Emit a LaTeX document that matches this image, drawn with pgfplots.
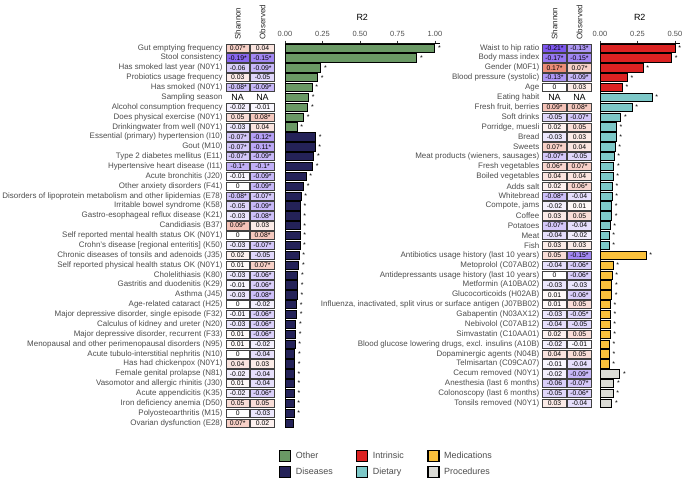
\documentclass[border=0pt]{standalone}
\usepackage{pgfplots}
\pgfplotsset{compat=1.18}
\usepackage{pgfplotstable}
\usepackage{fontspec}
\setmainfont{Liberation Sans}
\setsansfont{Liberation Sans}

\definecolor{cOther}{RGB}{106,153,101}
\definecolor{cDis}{RGB}{36,34,88}
\definecolor{cIntr}{RGB}{220,34,34}
\definecolor{cDiet}{RGB}{125,200,200}
\definecolor{cMed}{RGB}{250,193,60}
\definecolor{cProc}{RGB}{219,219,213}
\definecolor{lab}{RGB}{77,77,77}

\pgfdeclareplotmark{cell}{%
  \pgfpathrectangle{\pgfpoint{-11.8bp}{-4.15bp}}{\pgfpoint{23.6bp}{8.3bp}}%
  \pgfusepathqfillstroke}

\pgfplotstableread{
y sh shl ob obl r2
0 0.07 0.07* 0.04 0.04 0.998
1 -0.19 -0.19* -0.15 -0.15* 0.878
2 -0.06 -0.06 -0.09 -0.09* 0.238
3 0.03 0.03 -0.05 -0.05 0.216
4 -0.08 -0.08* -0.09 -0.09* 0.180
5 0 NA 0 NA 0.156
6 -0.02 -0.02 -0.01 -0.01 0.151
7 0.05 0.05 0.08 0.08* 0.124
8 -0.03 -0.03 0.04 0.04 0.080
9 -0.07 -0.07* -0.12 -0.12* 0.204
10 -0.07 -0.07* -0.11 -0.11* 0.200
11 -0.07 -0.07* -0.09 -0.09* 0.191
12 -0.10 -0.1* -0.10 -0.1* 0.184
13 -0.01 -0.01 -0.09 -0.09* 0.140
14 0 0 -0.09 -0.09* 0.124
15 -0.08 -0.08* -0.07 -0.07* 0.106
16 -0.05 -0.05 -0.09 -0.09* 0.101
17 -0.03 -0.03 -0.08 -0.08* 0.100
18 0.09 0.09* 0.03 0.03 0.100
19 0 0 0.08 0.08* 0.100
20 -0.03 -0.03 -0.07 -0.07* 0.099
21 0.02 0.02 -0.05 -0.05 0.093
22 0.01 0.01 0.07 0.07* 0.091
23 -0.03 -0.03 -0.06 -0.06* 0.085
24 -0.01 -0.01 -0.06 -0.06* 0.083
25 -0.03 -0.03 -0.08 -0.08* 0.082
26 0 0 -0.02 -0.02 0.077
27 -0.01 -0.01 -0.06 -0.06* 0.076
28 -0.03 -0.03 -0.06 -0.06* 0.072
29 0.01 0.01 -0.06 -0.06* 0.070
30 0.01 0.01 -0.02 -0.02 0.067
31 0 0 -0.04 -0.04 0.065
32 0.04 0.04 0.03 0.03 0.063
33 -0.02 -0.02 -0.04 -0.04 0.062
34 0.01 0.01 -0.04 -0.04 0.062
35 -0.02 -0.02 -0.06 -0.06* 0.061
36 0.05 0.05 0.05 0.05 0.060
37 0 0 -0.03 -0.03 0.060
38 0.07 0.07* 0.02 0.02 0.058
}\lefttab

\pgfplotstableread{
y sh shl ob obl r2
0 -0.21 -0.21* -0.13 -0.13* 0.500
1 -0.17 -0.17* -0.15 -0.15* 0.476
2 0.17 0.17* 0.07 0.07* 0.287
3 -0.13 -0.13* -0.09 -0.09* 0.182
4 0 0 0.03 0.03 0.149
5 0 NA 0 NA 0.347
6 0.09 0.09* 0.08 0.08* 0.213
7 -0.05 -0.05 -0.07 -0.07* 0.138
8 0.02 0.02 0.05 0.05 0.109
9 -0.03 -0.03 0.03 0.03 0.107
10 0.07 0.07* 0.04 0.04 0.100
11 -0.07 -0.07* -0.05 -0.05 0.093
12 0.06 0.06* 0.07 0.07* 0.091
13 0.04 0.04 0.04 0.04 0.087
14 0.02 0.02 0.06 0.06* 0.082
15 -0.08 -0.08* -0.04 -0.04 0.080
16 -0.02 -0.02 0.01 0.01 0.076
17 0.03 0.03 0.05 0.05 0.076
18 -0.07 -0.07* -0.04 -0.04 0.067
19 -0.04 -0.04 -0.02 -0.02 0.060
20 0.03 0.03 0.03 0.03 0.060
21 0.05 0.05 -0.15 -0.15* 0.307
22 -0.04 -0.04 -0.06 -0.06* 0.087
23 0 0 -0.06 -0.06* 0.080
24 -0.03 -0.03 -0.03 -0.03 0.078
25 0.01 0.01 -0.06 -0.06* 0.076
26 0.01 0.01 0.05 0.05 0.069
27 -0.03 -0.03 -0.05 -0.05* 0.069
28 -0.04 -0.04 -0.05 -0.05 0.067
29 0.02 0.02 0.05 0.05 0.067
30 -0.02 -0.02 -0.01 -0.01 0.062
31 0.04 0.04 0.05 0.05 0.062
32 -0.01 -0.01 -0.04 -0.04 0.060
33 -0.02 -0.02 -0.09 -0.09* 0.131
34 -0.06 -0.06 -0.07 -0.07* 0.091
35 -0.05 -0.05 -0.06 -0.06* 0.087
36 0.03 0.03 -0.04 -0.04 0.078
}\righttab

\pgfplotsset{
  rows/.style={restrict expr to domain={\coordindex}{#1}},
  hm/.style={scale only axis, anchor=north west, y dir=reverse, ymin=-0.5,
    xmin=-0.5, xmax=1.5, clip=false,
    axis line style={draw=none}, tick style={draw=none},
    xtick={0,1}, xticklabels={Shannon,Observed}, xticklabel pos=top,
    xticklabel style={rotate=90, anchor=west, font=\fontsize{8}{9}\selectfont, text=black!85},
    yticklabel style={font=\fontsize{8}{9}\selectfont, text=lab, inner sep=2.5bp},
    colormap={hmc}{rgb255=(100,55,235) rgb255=(255,255,255) rgb255=(225,85,55)},
    point meta min=-0.25, point meta max=0.25,
  },
  cells/.style={scatter, only marks, mark=cell,
    scatter/use mapped color={draw=black!75, fill=mapped color},
    mark options={line width=0.6bp},
    skip coords between index={5}{6}},
  celltext/.style={only marks, mark=none, point meta=explicit symbolic,
    nodes near coords, nodes near coords align=center,
    every node near coord/.append style={font=\fontsize{6.8}{7}\selectfont, text=black, inner sep=0pt},
    skip coords between index={5}{6}},
  nacell/.style={only marks, mark=none, rows={4.5:5.5}, point meta=explicit symbolic,
    nodes near coords, nodes near coords align=center,
    every node near coord/.append style={font=\fontsize{9}{10}\selectfont, text=black, inner sep=0pt}},
  barax/.style={scale only axis, anchor=north west, y dir=reverse, ymin=-0.5, xmin=0,
    axis x line*=top, axis y line*=left, ytick=\empty, clip=false,
    xbar, bar width=8.3bp, bar shift=0pt,
    tick align=outside, major tick length=2.5bp, tick style={black!80, line width=0.5bp},
    axis line style={line width=0.6bp},
    xticklabel style={font=\fontsize{7.5}{8}\selectfont, text=lab},
    title style={font=\fontsize{9}{10}\selectfont, at={(0.5,1)}, anchor=center, yshift=20bp},
    title=R2,
  },
  bars/.style={draw=black, line width=0.7bp, nodes near coords={*},
    every node near coord/.append style={font=\fontsize{7}{7}\selectfont, text=black, inner sep=3bp}},
  sqleg/.style={legend image code/.code={\draw[##1,line width=1.2bp] (0bp,-11bp) rectangle (11bp,0bp);}},
}

\begin{document}
\begin{tikzpicture}
\useasboundingbox (0,0) rectangle (685bp,479bp);

% ---------- left heatmap ----------
\begin{axis}[hm, at={(225.3bp,435.93bp)}, width=49.6bp, height=384.93bp, ymax=38.5,
  ytick={0,...,38},
  yticklabels={{Gut emptying frequency},{Stool consistency},{Has smoked last year (N0Y1)},{Probiotics usage frequency},{Has smoked (N0Y1)},{Sampling season},{Alcohol consumption frequency},{Does physical exercise (N0Y1)},{Drinkingwater from well (N0Y1)},{Essential (primary) hypertension (I10)},{Gout (M10)},{Type 2 diabetes mellitus (E11)},{Hypertensive heart disease (I11)},{Acute bronchitis (J20)},{Other anxiety disorders (F41)},{Disorders of lipoprotein metabolism and other lipidemias (E78)},{Irritable bowel syndrome (K58)},{Gastro-esophageal reflux disease (K21)},{Candidiasis (B37)},{Self reported mental health status OK (N0Y1)},{Crohn's disease [regional enteritis] (K50)},{Chronic diseases of tonsils and adenoids (J35)},{Self reported physical health status OK (N0Y1)},{Cholelithiasis (K80)},{Gastritis and duodenitis (K29)},{Asthma (J45)},{Age-related cataract (H25)},{Major depressive disorder, single episode (F32)},{Calculus of kidney and ureter (N20)},{Major depressive disorder, recurrent (F33)},{Menopausal and other perimenopausal disorders (N95)},{Acute tubulo-interstitial nephritis (N10)},{Has had chickenpox (N0Y1)},{Female genital prolapse (N81)},{Vasomotor and allergic rhinitis (J30)},{Acute appendicitis (K35)},{Iron deficiency anemia (D50)},{Polyosteoarthritis (M15)},{Ovarian dysfunction (E28)}},
]
\addplot[cells, point meta=\thisrow{sh}] table[x expr=0, y=y] \lefttab;
\addplot[cells, point meta=\thisrow{ob}] table[x expr=1, y=y] \lefttab;
\addplot[celltext] table[x expr=0, y=y, meta=shl] \lefttab;
\addplot[celltext] table[x expr=1, y=y, meta=obl] \lefttab;
\addplot[nacell] table[x expr=0, y=y, meta=shl] \lefttab;
\addplot[nacell] table[x expr=1, y=y, meta=obl] \lefttab;
\end{axis}

% ---------- left bars ----------
\begin{axis}[barax, at={(285bp,435.93bp)}, width=154.5bp, height=384.93bp, ymax=38.5, xmax=1.03,
  xtick={0,0.25,0.5,0.75,1}, xticklabels={0.00,0.25,0.50,0.75,1.00}]
\addplot[bars, fill=cOther, rows={-0.5:8.5}] table[x=r2, y=y] \lefttab;
\addplot[bars, fill=cDis, rows={8.5:37.5}] table[x=r2, y=y] \lefttab;
\addplot[draw=black, line width=0.7bp, fill=cDis, rows={37.5:38.5}] table[x=r2, y=y] \lefttab;
\end{axis}

% ---------- right heatmap ----------
\begin{axis}[hm, at={(542bp,435.93bp)}, width=50bp, height=365.19bp, ymax=36.5,
  ytick={0,...,36},
  yticklabels={{Waist to hip ratio},{Body mass index},{Gender (M0F1)},{Blood pressure (systolic)},{Age},{Eating habit},{Fresh fruit, berries},{Soft drinks},{Porridge, muesli},{Bread},{Sweets},{Meat products (wieners, sausages)},{Fresh vegetables},{Boiled vegetables},{Adds salt},{Whitebread},{Compote, jams},{Coffee},{Potatoes},{Meat},{Fish},{Antibiotics usage history (last 10 years)},{Metoprolol (C07AB02)},{Antidepressants usage history (last 10 years)},{Metformin (A10BA02)},{Glucocorticoids (H02AB)},{Influenza, inactivated, split virus or surface antigen (J07BB02)},{Gabapentin (N03AX12)},{Nebivolol (C07AB12)},{Simvastatin (C10AA01)},{Blood glucose lowering drugs, excl. insulins (A10B)},{Dopaminergic agents (N04B)},{Telmisartan (C09CA07)},{Cecum removed (N0Y1)},{Anesthesia (last 6 months)},{Colonoscopy (last 6 months)},{Tonsils removed (N0Y1)}},
]
\addplot[cells, point meta=\thisrow{sh}] table[x expr=0, y=y] \righttab;
\addplot[cells, point meta=\thisrow{ob}] table[x expr=1, y=y] \righttab;
\addplot[celltext] table[x expr=0, y=y, meta=shl] \righttab;
\addplot[celltext] table[x expr=1, y=y, meta=obl] \righttab;
\addplot[nacell] table[x expr=0, y=y, meta=shl] \righttab;
\addplot[nacell] table[x expr=1, y=y, meta=obl] \righttab;
\end{axis}

% ---------- right bars ----------
\begin{axis}[barax, at={(600bp,435.93bp)}, width=79.5bp, height=365.19bp, ymax=36.5, xmax=0.53,
  xtick={0,0.25,0.5}, xticklabels={0.00,0.25,0.50}]
\addplot[bars, fill=cIntr, rows={-0.5:4.5}] table[x=r2, y=y] \righttab;
\addplot[bars, fill=cDiet, rows={4.5:20.5}] table[x=r2, y=y] \righttab;
\addplot[bars, fill=cMed, rows={20.5:32.5}] table[x=r2, y=y] \righttab;
\addplot[bars, fill=cProc, rows={32.5:36.5}] table[x=r2, y=y] \righttab;
\end{axis}

% ---------- legend ----------
\begin{axis}[at={(279bp,29.5bp)}, anchor=north west, scale only axis, width=5bp, height=5bp,
  hide axis, xmin=0, xmax=1, ymin=0, ymax=1,
  legend columns=3, legend cell align=left,
  legend style={at={(0,1)}, anchor=north west, draw=none, fill=none, inner sep=0pt,
    row sep=4bp, font=\fontsize{9}{10}\selectfont, text=lab,
    nodes={inner sep=1.5bp},
    /tikz/every odd column/.append style={column sep=3bp},
    /tikz/every even column/.append style={column sep=22bp},
    /tikz/column 4/.append style={column sep=34bp}}]
\addlegendimage{sqleg, fill=cOther}\addlegendentry{Other}
\addlegendimage{sqleg, fill=cIntr}\addlegendentry{Intrinsic}
\addlegendimage{sqleg, fill=cMed}\addlegendentry{Medications}
\addlegendimage{sqleg, fill=cDis}\addlegendentry{Diseases}
\addlegendimage{sqleg, fill=cDiet}\addlegendentry{Dietary}
\addlegendimage{sqleg, fill=cProc}\addlegendentry{Procedures}
\end{axis}
\end{tikzpicture}
\end{document}
